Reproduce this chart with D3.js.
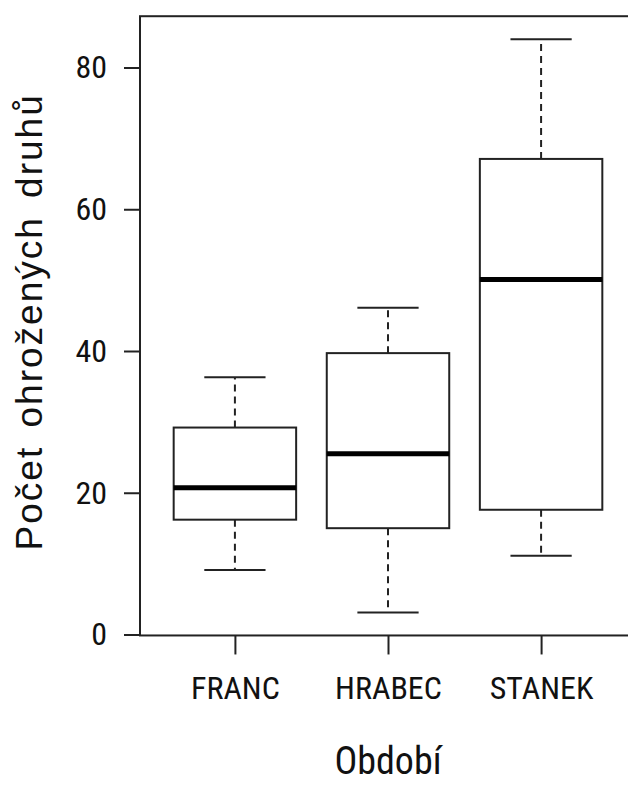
<!DOCTYPE html>
<html>
<head>
<meta charset="utf-8">
<script src="https://cdn.jsdelivr.net/npm/d3@7"></script>
<style>
  html, body { margin: 0; padding: 0; background: #fff; }
  svg { display: block; }
</style>
</head>
<body>
<div id="chart"></div>
<script>
// boxplot stats
const categories = ["FRANC", "HRABEC", "STANEK"];
const mins    = [9.1, 3.1, 11.1];
const q1s     = [16.2, 15.0, 17.6];
const medians = [20.7, 25.5, 50.1];
const q3s     = [29.2, 39.7, 67.1];
const maxs    = [36.3, 46.1, 84.0];
const yTicks  = [0, 20, 40, 60, 80];

const width = 628;
const height = 785;
const ink = "#222";
const narrow = "'Liberation Sans Narrow', 'Arial Narrow', 'Roboto Condensed', Roboto, sans-serif";

const svg = d3.select("#chart")
    .append("svg")
    .attr("width", width)
    .attr("height", height);

// R style: x range 0.5..n+0.5 padded 4%
const xlo = 0.5 - 0.04 * categories.length;
const xhi = categories.length + 0.5 + 0.04 * categories.length;
const x = d3.scaleLinear()
    .domain([xlo, xhi])
    .range([140, 636]);

const y = d3.scaleLinear()
    .domain([0, 80])
    .range([634.5, 67.5]);

const dataMin = d3.min(mins), dataMax = d3.max(maxs);
const ylo = dataMin - 0.04 * (dataMax - dataMin);
const yhi = dataMax + 0.04 * (dataMax - dataMin);

const data = categories.map((c, i) => ({
    name: c, pos: i + 1,
    min: mins[i], q1: q1s[i], med: medians[i], q3: q3s[i], max: maxs[i]
}));

const halfBox = 0.4;
const halfCap = 0.2;

const g = svg.append("g");

// whiskers
g.selectAll(".whisker")
    .data(data.flatMap(d => [[d.pos, d.q3, d.max], [d.pos, d.q1, d.min]]))
    .enter()
    .append("line")
    .attr("x1", d => x(d[0])).attr("x2", d => x(d[0]))
    .attr("y1", d => y(d[1])).attr("y2", d => y(d[2]))
    .attr("stroke", ink)
    .attr("stroke-width", 2)
    .attr("stroke-dasharray", "7,5");

// whisker caps
g.selectAll(".cap")
    .data(data.flatMap(d => [[d.pos, d.max], [d.pos, d.min]]))
    .enter()
    .append("line")
    .attr("x1", d => x(d[0] - halfCap)).attr("x2", d => x(d[0] + halfCap))
    .attr("y1", d => y(d[1])).attr("y2", d => y(d[1]))
    .attr("stroke", ink)
    .attr("stroke-width", 2);

// boxes
g.selectAll(".box")
    .data(data)
    .enter()
    .append("rect")
    .attr("x", d => x(d.pos - halfBox))
    .attr("width", d => x(d.pos + halfBox) - x(d.pos - halfBox))
    .attr("y", d => y(d.q3))
    .attr("height", d => y(d.q1) - y(d.q3))
    .attr("fill", "#fff")
    .attr("stroke", ink)
    .attr("stroke-width", 2);

// medians
g.selectAll(".median")
    .data(data)
    .enter()
    .append("line")
    .attr("x1", d => x(d.pos - halfBox)).attr("x2", d => x(d.pos + halfBox))
    .attr("y1", d => y(d.med)).attr("y2", d => y(d.med))
    .attr("stroke", "#000")
    .attr("stroke-width", 5);

// frame
svg.append("rect")
    .attr("x", x(xlo))
    .attr("y", y(yhi))
    .attr("width", x(xhi) - x(xlo))
    .attr("height", y(ylo) - y(yhi))
    .attr("fill", "none")
    .attr("stroke", ink)
    .attr("stroke-width", 2);

// y axis
const yAxis = svg.append("g")
    .attr("transform", `translate(${x(xlo)},0)`)
    .call(d3.axisLeft(y).tickValues(yTicks).tickSize(16).tickPadding(17));
yAxis.select(".domain").remove();
yAxis.selectAll(".tick line").attr("stroke", ink).attr("stroke-width", 2);
yAxis.selectAll(".tick text")
    .attr("fill", "#111")
    .style("font-family", narrow)
    .style("font-size", "32px");

// x axis
const xAxis = svg.append("g")
    .attr("transform", `translate(0,${y(ylo)})`)
    .call(d3.axisBottom(x)
        .tickValues(data.map(d => d.pos))
        .tickFormat((d, i) => categories[i])
        .tickSize(19).tickPadding(22));
xAxis.select(".domain").remove();
xAxis.selectAll(".tick line").attr("stroke", ink).attr("stroke-width", 2);
xAxis.selectAll(".tick text")
    .attr("fill", "#111")
    .style("font-family", narrow)
    .style("font-size", "32px");

// axis titles
svg.append("text")
    .attr("transform", `translate(42,${(y(ylo) + y(yhi)) / 2 - 4}) rotate(-90)`)
    .attr("text-anchor", "middle")
    .attr("fill", "#111")
    .style("font-family", "'Liberation Sans', Arial, sans-serif")
    .style("font-size", "37px")
    .style("letter-spacing", "2px")
    .style("word-spacing", "6px")
    .text("Počet ohrožených druhů");

svg.append("text")
    .attr("x", (x(1) + x(3)) / 2)
    .attr("y", 774)
    .attr("text-anchor", "middle")
    .attr("fill", "#111")
    .style("font-family", narrow)
    .style("font-size", "38px")
    .text("Období");
</script>
</body>
</html>
